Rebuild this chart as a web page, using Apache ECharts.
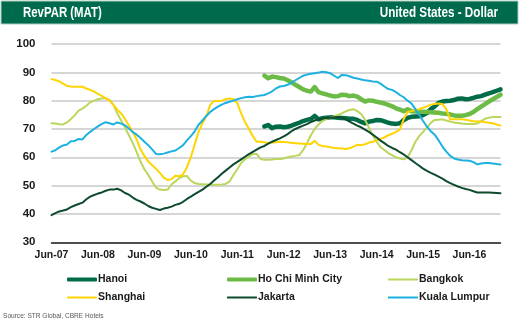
<!DOCTYPE html>
<html><head><meta charset="utf-8">
<script src="https://cdn.jsdelivr.net/npm/echarts@6/dist/echarts.min.js"></script>
<style>html,body{margin:0;padding:0;background:#fff}#c{width:529px;height:324px}</style>
</head><body><div id="c"></div>
<script>
// Monthly categories Jun-07 .. Feb-17
const monthNames = ['Jan','Feb','Mar','Apr','May','Jun','Jul','Aug','Sep','Oct','Nov','Dec'];
const categories = [];
for (let i = 0; i < 117; i++) { const m = (5 + i) % 12; const y = 7 + Math.floor((5 + i) / 12); categories.push(monthNames[m] + '-' + String(y).padStart(2, '0')); }
const yTicks = [30, 40, 50, 60, 70, 80, 90, 100];

const seriesNames = ['Hanoi', 'Ho Chi Minh City', 'Bangkok', 'Shanghai', 'Jakarta', 'Kuala Lumpur'];

// Hanoi and HCMC start Jan-12
const vietnamStart = 'Jan-12';
const hanoi = [70.9,71.4,70.3,70.8,70.9,70.6,70.8,71.2,71.7,72.2,72.8,73.2,73.5,74.6,73.4,73.8,74.0,74.1,74.1,74.0,
  73.9,73.8,73.6,73.6,73.2,72.5,72.0,72.6,72.8,73.2,73.1,72.7,72.2,71.9,71.8,72.0,73.2,73.9,74.3,74.4,
  74.5,74.9,75.6,77.0,78.0,79.2,79.7,79.9,80.0,80.2,80.7,80.8,80.5,80.6,81.0,81.4,81.6,82.1,82.6,83.0,83.5,84.0];
const hcmc = [88.8,87.9,88.5,88.3,88.0,87.8,87.2,86.5,85.6,84.8,84.0,83.5,83.2,84.8,83.0,82.6,82.2,81.8,81.5,81.6,
  82.1,82.0,81.6,81.8,81.4,80.5,79.7,80.1,80.0,79.6,79.3,79.0,78.5,78.0,77.3,76.8,76.3,77.0,76.3,76.2,
  76.1,76.1,76.0,75.9,75.8,75.7,75.5,75.4,75.1,74.8,74.7,74.7,74.9,75.3,76.0,77.0,77.9,78.8,79.7,80.5,81.3,82.1];
const bangkok = [72.0,71.9,71.7,71.6,72.3,73.5,74.8,76.5,77.2,78.2,79.4,80.0,80.5,80.8,80.9,80.3,78.5,75.5,73.0,70.5,
  67.8,65.0,61.8,58.5,55.8,53.8,51.5,49.3,48.6,48.5,48.6,50.4,51.5,52.7,53.3,53.4,51.8,50.9,50.6,50.5,
  50.4,50.3,50.3,50.3,50.4,50.6,51.5,53.8,55.8,58.0,59.3,60.2,61.2,61.2,59.4,59.1,59.1,59.2,59.4,59.4,
  59.6,60.0,60.3,60.5,60.8,62.5,65.0,67.8,70.0,71.6,72.8,73.6,74.0,74.5,75.0,75.5,76.2,76.7,77.0,76.3,
  75.3,73.3,70.5,67.8,65.5,63.6,62.6,61.5,60.8,60.0,59.6,59.3,60.0,62.5,65.5,67.5,69.0,70.5,72.2,73.2,
  73.3,73.4,73.0,72.6,72.3,72.1,71.9,71.8,71.8,71.8,71.9,72.8,73.6,74.0,74.2,74.2,74.2];
const shanghai = [87.6,87.3,86.8,86.0,85.2,85.0,84.9,84.9,84.9,84.3,83.8,83.2,82.4,81.7,80.8,80.0,78.5,76.8,75.5,73.5,
  71.2,69.0,66.3,62.8,60.5,58.5,57.2,56.0,54.5,52.8,52.0,52.3,53.5,53.3,54.0,56.5,60.0,64.5,69.0,72.0,
  74.5,78.5,79.9,79.9,80.0,80.5,80.8,80.6,79.1,75.5,72.5,70.0,67.5,65.5,65.5,65.3,65.0,65.2,65.3,65.5,
  65.4,65.3,65.1,65.0,64.9,64.8,64.7,64.7,65.8,64.4,64.0,63.8,63.6,63.3,63.2,63.1,62.9,63.2,63.8,64.4,
  64.3,64.6,65.2,65.5,66.0,66.5,67.0,67.8,68.3,69.0,69.8,73.5,76.0,76.3,76.8,77.0,77.5,78.0,78.6,78.8,
  79.0,78.8,77.0,73.4,73.4,73.4,73.4,73.3,73.0,72.7,72.6,72.6,72.4,72.2,72.0,71.6,71.2];
const jakarta = [39.6,40.3,40.9,41.2,41.6,42.4,43.0,43.5,44.0,45.2,46.1,46.7,47.2,47.6,48.2,48.6,48.6,48.9,48.3,47.4,
  46.8,45.8,45.0,44.4,43.7,42.8,42.2,41.8,41.4,41.9,42.2,42.6,43.2,43.6,44.3,45.3,46.1,47.0,47.8,48.6,
  49.6,50.6,51.8,53.0,54.2,55.3,56.4,57.5,58.4,59.3,60.2,61.1,61.9,62.7,63.5,64.0,64.8,65.5,66.1,66.7,
  67.4,68.2,69.2,70.0,70.6,71.2,71.7,72.4,73.0,73.3,73.7,73.9,74.0,74.1,74.2,74.0,73.4,72.6,71.9,71.2,
  70.6,69.8,69.0,68.0,67.0,65.9,65.0,64.0,63.3,62.7,61.8,61.0,60.0,59.0,58.0,57.0,56.0,55.2,54.5,53.9,
  53.2,52.5,51.6,50.9,50.3,49.7,49.2,48.8,48.5,48.0,47.6,47.6,47.6,47.6,47.5,47.4,47.3];
const kualaLumpur = [62.0,62.5,63.5,64.2,64.5,65.7,65.8,66.5,66.3,67.9,69.0,70.0,70.9,71.8,72.4,72.0,71.6,72.3,71.9,71.3,
  70.2,68.9,68.0,66.8,65.5,64.3,62.8,61.2,61.1,61.3,61.7,62.1,62.4,63.3,64.3,66.0,67.5,69.2,71.5,73.0,
  74.6,76.0,77.0,77.9,78.6,79.2,79.6,80.0,80.5,80.9,81.2,81.4,81.3,81.6,81.8,82.0,82.6,83.3,84.3,85.0,
  85.2,85.6,86.3,87.2,88.0,88.8,89.2,89.5,89.7,89.9,90.2,90.0,89.7,88.8,88.0,89.1,89.0,88.6,88.1,87.8,
  87.5,87.2,87.0,86.8,86.7,86.0,85.0,84.1,83.8,83.0,82.0,81.2,80.0,79.0,77.0,75.0,72.8,70.8,69.2,68.0,
  66.0,63.8,62.0,60.5,59.6,59.2,59.0,58.9,58.8,58.3,57.5,57.8,58.0,58.0,57.8,57.6,57.5];

const colors = ['#006c47', '#6cbb46', '#bad65c', '#ffd400', '#0e4b2d', '#1cb1e0'];
const widths = [4.5, 4.5, 2, 2, 2, 2];

const startIdx = categories.indexOf(vietnamStart);
const toPairs = arr => arr.map((v, i) => [categories[startIdx + i], v]);
const seriesData = [toPairs(hanoi), toPairs(hcmc), bangkok, shanghai, jakarta, kualaLumpur];

const FONT = '"Liberation Sans", Arial, sans-serif';
const legendPos = [[67, 274], [227, 274], [388, 274], [67, 292], [227, 292], [388, 292]];

const chart = echarts.init(document.getElementById('c'), null, { renderer: 'canvas' });
chart.setOption({
  animation: false,
  grid: { left: 51.5, right: 28.5, top: 44, bottom: 81.7 },
  graphic: [
    { type: 'rect', shape: { x: 1, y: 1, width: 517, height: 23 }, style: { fill: '#006a4d', stroke: '#a9cdbb', lineWidth: 1 } },
    { type: 'text', x: 23, y: 5, scaleX: 0.76, style: { text: 'RevPAR (MAT)', fill: '#ffffff', font: 'bold 15px ' + FONT } },
    { type: 'text', x: 498, y: 5, scaleX: 0.78, style: { text: 'United States - Dollar', fill: '#ffffff', font: 'bold 15px ' + FONT, textAlign: 'right' } },
    { type: 'text', x: 3, y: 312, scaleX: 0.82, style: { text: 'Source: STR Global, CBRE Hotels', fill: '#555555', font: '8px ' + FONT } }
  ],
  legend: seriesNames.map((n, i) => ({
    data: [n], left: legendPos[i][0], top: legendPos[i][1], itemWidth: 30, itemHeight: widths[i] > 3 ? 4 : 2,
    icon: 'roundRect', itemGap: 0, padding: 0,
    textStyle: { fontFamily: FONT, fontWeight: 'bold', fontSize: 10.5, color: '#1a1a1a', padding: [0, 0, 0, -4] }
  })),
  xAxis: {
    type: 'category', data: categories, boundaryGap: false,
    axisLine: { show: true, lineStyle: { color: '#222', width: 1.5 } },
    axisTick: { show: false },
    axisLabel: { interval: 11, color: '#1a1a1a', fontFamily: FONT, fontWeight: 'bold', fontSize: 10.5, margin: 7 },
    splitLine: { show: false }
  },
  yAxis: {
    type: 'value', min: yTicks[0], max: yTicks[yTicks.length - 1], interval: 10,
    axisLine: { show: false }, axisTick: { show: false },
    axisLabel: { color: '#1a1a1a', fontFamily: FONT, fontWeight: 'bold', fontSize: 11.5, margin: 16 },
    splitLine: { lineStyle: { color: '#c9c9c9', width: 1.5 } }
  },
  series: seriesNames.map((n, i) => ({
    name: n, type: 'line', data: seriesData[i], showSymbol: false, symbol: 'none',
    lineStyle: { color: colors[i], width: widths[i], cap: 'round', join: 'round' },
    itemStyle: { color: colors[i] }, z: 2
  }))
});
</script></body></html>
